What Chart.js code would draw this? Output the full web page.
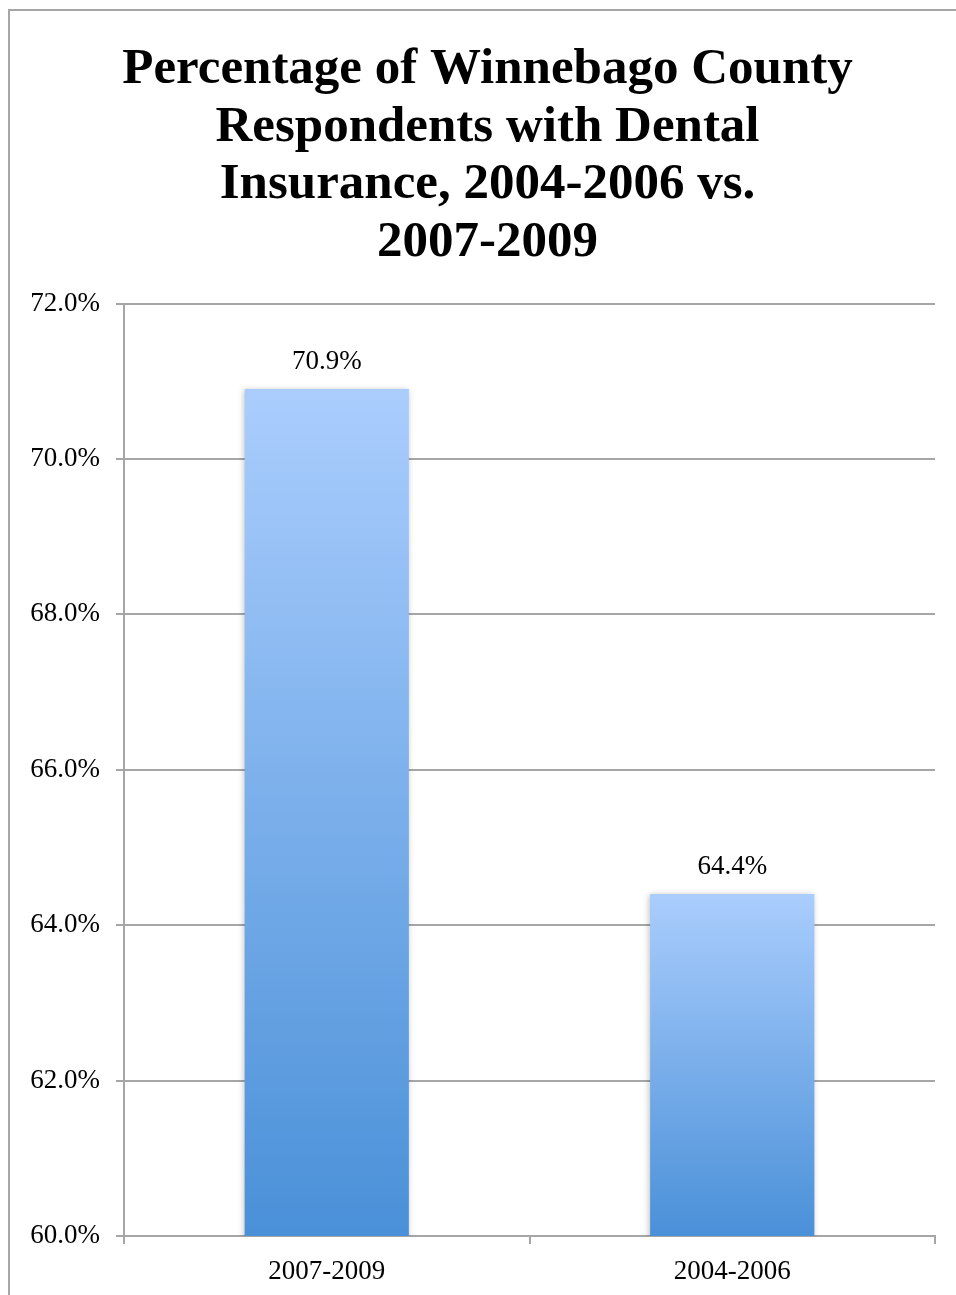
<!DOCTYPE html>
<html lang="en">
<head>
    <meta charset="UTF-8">
    <title>Dental Insurance</title>
    <script src="https://cdn.jsdelivr.net/npm/chart.js"></script>
    <style>
        body { margin: 0; background: #fff; }
        #frame { position: absolute; left: 8px; top: 9px; width: 1000px; height: 1400px; border: 2px solid #a6a6a6; }
        #wrap { position: absolute; left: 0; top: 0; width: 956px; height: 1295px; }
    </style>
</head>
<body>
    <div id="frame"></div>
    <div id="wrap"><canvas id="myChart" width="956" height="1295"></canvas></div>
    <script>
        // Données du graphique
        const periods = ['2007-2009', '2004-2006'];
        const withDental = [70.9, 64.4];
        const titleLines = ['Percentage of Winnebago County', 'Respondents with Dental', 'Insurance, 2004-2006 vs.', '2007-2009'];

        const serif = "'Liberation Serif', 'DejaVu Serif', serif";

        // Dégradé vertical propre à chaque barre
        function barFill(context) {
            const chart = context.chart;
            if (!chart.chartArea || !chart.scales.y) return '#7fb0ea';
            const y = chart.scales.y;
            const top = y.getPixelForValue(context.raw);
            const g = chart.ctx.createLinearGradient(0, top, 0, y.bottom);
            g.addColorStop(0, '#aacdfd');
            g.addColorStop(1, '#4a90d8');
            return g;
        }

        // Titre décalé un peu vers la droite
        const titleShift = {
            id: 'titleShift',
            afterLayout(chart) {
                if (chart.titleBlock) {
                    chart.titleBlock.left += 20;
                    chart.titleBlock.right += 20;
                }
            }
        };

        // Ombre légère derrière les barres + étiquettes de valeur
        const barExtras = {
            id: 'barExtras',
            beforeDatasetsDraw(chart) {
                const ctx = chart.ctx;
                ctx.save();
                ctx.shadowColor = 'rgba(0,0,0,0.25)';
                ctx.shadowBlur = 6;
                ctx.shadowOffsetX = -1;
                ctx.shadowOffsetY = 1;
            },
            afterDatasetsDraw(chart) {
                const ctx = chart.ctx;
                ctx.restore();
                ctx.save();
                ctx.font = '27px ' + serif;
                ctx.fillStyle = '#000';
                ctx.textAlign = 'center';
                ctx.textBaseline = 'middle';
                chart.getDatasetMeta(0).data.forEach((bar, i) => {
                    ctx.fillText(withDental[i].toFixed(1) + '%', bar.x, bar.y - 27);
                });
                ctx.restore();
            }
        };

        new Chart(document.getElementById('myChart'), {
            type: 'bar',
            data: {
                labels: periods,
                datasets: [{
                    data: withDental,
                    backgroundColor: barFill,
                    borderWidth: 0,
                    categoryPercentage: 0.81,
                    barPercentage: 0.5
                }]
            },
            options: {
                responsive: false,
                animation: false,
                layout: { padding: { left: 0, right: 21, top: 0, bottom: 0 } },
                plugins: {
                    legend: { display: false },
                    tooltip: { enabled: false },
                    title: {
                        display: true,
                        text: titleLines,
                        color: '#000',
                        font: { family: serif, size: 51, weight: 'bold', lineHeight: 1.13 },
                        padding: { top: 41, bottom: 32 }
                    }
                },
                scales: {
                    y: {
                        min: 60,
                        max: 72,
                        afterFit(scale) { scale.width = 124; },
                        ticks: {
                            stepSize: 2,
                            color: '#000',
                            padding: 16,
                            font: { family: serif, size: 27 },
                            callback: v => v.toFixed(1) + '%'
                        },
                        grid: { color: '#a6a6a6', lineWidth: 2, tickLength: 8 },
                        border: { color: '#a6a6a6', width: 2 }
                    },
                    x: {
                        afterFit(scale) { scale.height = 59; },
                        ticks: { color: '#000', padding: 12, font: { family: serif, size: 27 } },
                        grid: { offset: true, drawOnChartArea: false, color: '#a6a6a6', lineWidth: 2, tickLength: 8 },
                        border: { color: '#a6a6a6', width: 2 }
                    }
                }
            },
            plugins: [titleShift, barExtras]
        });
    </script>
</body>
</html>
